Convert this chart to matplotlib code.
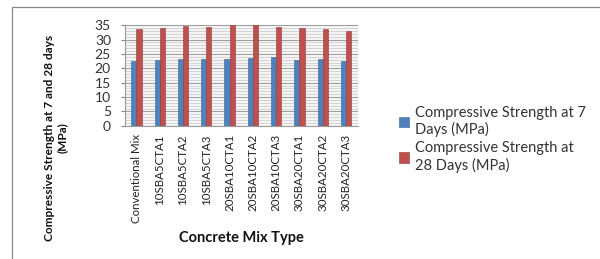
import matplotlib
matplotlib.use("Agg")
import matplotlib.pyplot as plt
import numpy as np
from matplotlib.lines import Line2D
from matplotlib.ticker import MultipleLocator

categories = ["Conventional Mix", "10SBA5CTA1", "10SBA5CTA2", "10SBA5CTA3",
              "20SBA10CTA1", "20SBA10CTA2", "20SBA10CTA3",
              "30SBA20CTA1", "30SBA20CTA2", "30SBA20CTA3"]
strength_7 = [22.6, 22.9, 23.4, 23.1, 23.3, 23.5, 23.9, 23.0, 23.2, 22.5]
strength_28 = [33.6, 33.9, 34.6, 34.4, 34.9, 35.0, 34.3, 33.9, 33.7, 33.1]
series_names = ["Compressive Strength at 7\nDays (MPa)",
                "Compressive Strength at\n28 Days (MPa)"]
yticks = [0, 5, 10, 15, 20, 25, 30, 35]

plt.rcParams['font.family'] = ['Lato', 'DejaVu Sans']

fig = plt.figure(figsize=(6.0, 2.59), dpi=100)
ax = fig.add_axes([0.208, 0.514, 0.388, 0.389])

x = np.arange(len(categories))
w = 0.22
blue = "#4F81BD"
red = "#C0504D"
b1 = ax.bar(x - w / 2, strength_7, width=w, color=blue, edgecolor="#3A6595",
            linewidth=0.4, zorder=3, label=series_names[0])
b2 = ax.bar(x + w / 2, strength_28, width=w, color=red, edgecolor="#8E3B39",
            linewidth=0.4, zorder=3, label=series_names[1])

ax.set_xlim(-0.5, len(categories) - 0.5)
ax.set_ylim(0, 35)
ax.set_yticks(yticks)
ax.yaxis.set_minor_locator(MultipleLocator(1))
ax.grid(axis='y', which='major', color="#9A9A9A", linewidth=0.7, zorder=0)
ax.grid(axis='y', which='minor', color="#CFCFCF", linewidth=0.6, zorder=0)
ax.tick_params(axis='y', which='minor', length=0)
ax.tick_params(axis='y', which='major', labelsize=10, length=3, color="#888888",
               labelcolor="#333333", pad=7)
ax.set_xticks(x)
ax.set_xticklabels(categories, rotation=90, fontsize=8.3, color="#222222")
ax.tick_params(axis='x', length=0, pad=6)
for s in ['top', 'right']:
    ax.spines[s].set_visible(False)
for s in ['left', 'bottom']:
    ax.spines[s].set_color("#999999")
    ax.spines[s].set_linewidth(0.8)
ax.set_facecolor("#F4F4F4")

ax.set_ylabel("Compressive Strength at 7 and 28 days\n(MPa)", fontsize=8.6,
              fontweight='bold', color="#111111", linespacing=1.2)
ax.yaxis.set_label_coords(-0.245, -0.12)

fig.text(0.403, 0.08, "Concrete Mix Type", ha='center', va='center',
         fontsize=10.5, fontweight='bold', color="#111111")

leg = fig.legend(handles=[b1, b2], loc='upper left',
                 bbox_to_anchor=(0.643, 0.643), frameon=False, fontsize=10.5,
                 handlelength=0.7, handleheight=0.7, handletextpad=0.4,
                 labelspacing=0.3, labelcolor="#333333")

fig.add_artist(Line2D([0.02, 0.02, 1.0], [0.0, 0.973, 0.973],
                      transform=fig.transFigure, color="#888888", linewidth=0.9))

fig.savefig("out.png", dpi=100)
